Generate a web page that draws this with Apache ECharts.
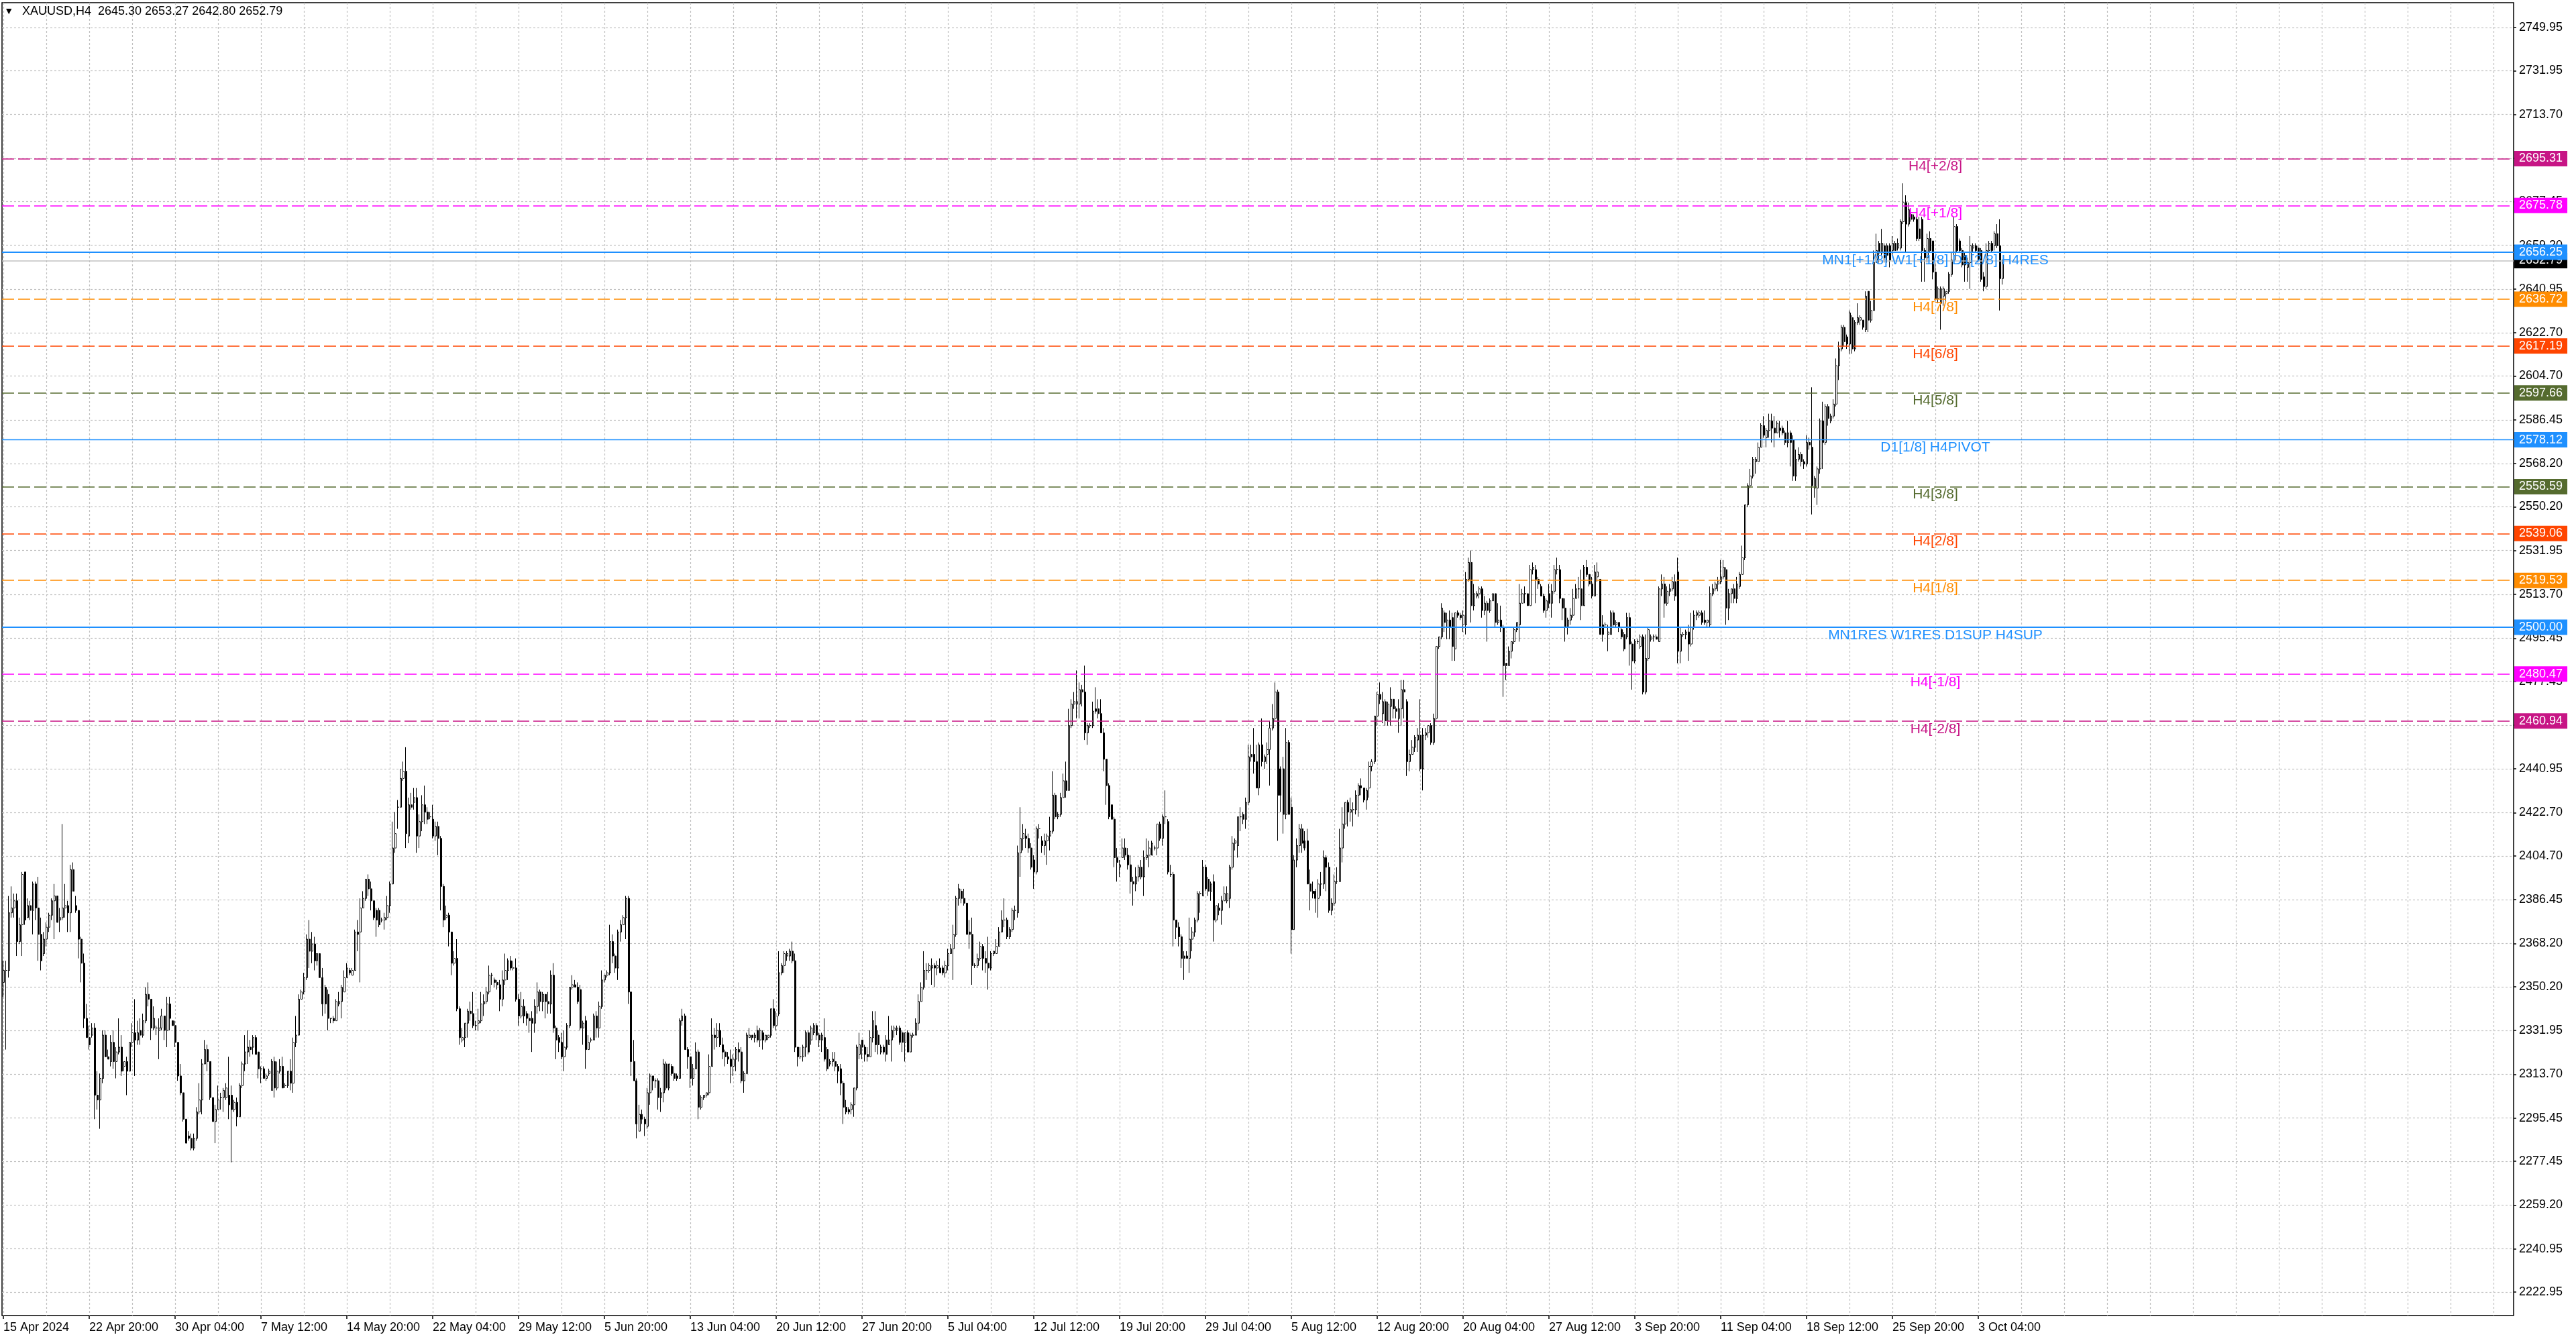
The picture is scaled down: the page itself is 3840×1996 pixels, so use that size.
<!DOCTYPE html>
<html>
<head>
<meta charset="utf-8">
<script src="https://cdn.jsdelivr.net/npm/echarts@6/dist/echarts.min.js"></script>
<style>
html,body{margin:0;padding:0;background:#fff;}
#chart{width:3840px;height:1996px;}
</style>
</head>
<body>
<div id="chart"></div>
<script>
// ---- DATA ----
const symbolTitle = 'XAUUSD,H4  2645.30 2653.27 2642.80 2652.79';

const timeLabels = ['15 Apr 2024','22 Apr 20:00','30 Apr 04:00','7 May 12:00','14 May 20:00','22 May 04:00',
  '29 May 12:00','5 Jun 20:00','13 Jun 04:00','20 Jun 12:00','27 Jun 20:00','5 Jul 04:00','12 Jul 12:00',
  '19 Jul 20:00','29 Jul 04:00','5 Aug 12:00','12 Aug 20:00','20 Aug 04:00','27 Aug 12:00','3 Sep 20:00',
  '11 Sep 04:00','18 Sep 12:00','25 Sep 20:00','3 Oct 04:00'];

const priceTicks = [2749.95,2731.95,2713.70,2695.45,2677.45,2659.20,2640.95,2622.70,2604.70,2586.45,
  2568.20,2550.20,2531.95,2513.70,2495.45,2477.45,2459.20,2440.95,2422.70,2404.70,2386.45,2368.20,
  2350.20,2331.95,2313.70,2295.45,2277.45,2259.20,2240.95,2222.95];

const levelValues = [2695.31,2675.78,2656.25,2636.72,2617.19,2597.66,2578.12,2558.59,2539.06,2519.53,2500.00,2480.47,2460.94];
const levelNames = ['H4[+2/8]','H4[+1/8]','MN1[+1/8] W1[+1/8] D1[2/8] H4RES','H4[7/8]','H4[6/8]','H4[5/8]',
  'D1[1/8] H4PIVOT','H4[3/8]','H4[2/8]','H4[1/8]','MN1RES W1RES D1SUP H4SUP','H4[-1/8]','H4[-2/8]'];
const bidPrice = 2652.79;

const opens = [
2352,2357,2357,2381,2383,2386,2369,2376,2398,2379,
2384,2382,2393,2383,2372,2364,2370,2375,2380,2386,
2388,2378,2379,2383,2384,2381,2399,2384,2382,2370,
2360,2337,2329,2330,2333,2305,2303,2312,2330,2321,
2319,2327,2319,2323,2325,2317,2319,2315,2327,2331,
2328,2332,2330,2336,2347,2345,2333,2333,2332,2333,
2338,2332,2343,2336,2334,2327,2313,2306,2295,2288,
2287,2283,2287,2298,2303,2318,2324,2319,2304,2294,
2299,2304,2304,2304,2305,2305,2299,2302,2296,2309,
2318,2323,2325,2325,2329,2323,2316,2316,2312,2314,
2307,2319,2308,2315,2317,2309,2309,2315,2310,2327,
2330,2345,2348,2354,2370,2365,2368,2361,2364,2354,
2350,2347,2337,2337,2336,2343,2344,2348,2354,2357,
2355,2357,2373,2373,2383,2387,2395,2391,2386,2382,
2382,2378,2378,2379,2384,2393,2408,2425,2425,2437,
2440,2413,2426,2427,2429,2413,2419,2426,2423,2421,
2420,2413,2417,2412,2392,2379,2380,2373,2360,2362,
2341,2328,2329,2335,2340,2339,2334,2335,2336,2343,
2344,2348,2355,2353,2352,2351,2345,2353,2357,2361,
2358,2358,2345,2338,2342,2339,2337,2337,2335,2342,
2348,2344,2347,2344,2343,2355,2333,2329,2327,2321,
2325,2334,2350,2351,2350,2349,2333,2336,2324,2328,
2328,2338,2333,2342,2353,2355,2356,2369,2363,2358,
2373,2376,2379,2387,2348,2319,2311,2290,2297,2295,
2292,2306,2313,2311,2311,2304,2306,2318,2308,2317,
2314,2313,2312,2336,2338,2324,2321,2312,2316,2323,
2300,2304,2305,2306,2317,2330,2329,2332,2326,2323,
2321,2320,2317,2320,2324,2323,2311,2314,2329,2330,
2329,2332,2328,2331,2328,2329,2330,2341,2334,2339,
2356,2359,2363,2363,2365,2361,2325,2321,2321,2325,
2331,2328,2331,2334,2330,2328,2329,2324,2318,2319,
2319,2317,2316,2310,2300,2299,2299,2301,2308,2322,
2328,2325,2322,2321,2329,2334,2330,2323,2325,2328,
2326,2328,2332,2332,2333,2331,2327,2331,2323,2330,
2330,2335,2344,2350,2357,2357,2358,2359,2358,2358,
2358,2356,2359,2364,2366,2372,2387,2390,2387,2385,
2373,2372,2359,2359,2362,2367,2362,2360,2358,2364,
2364,2367,2373,2378,2378,2371,2374,2382,2381,2406,
2412,2413,2412,2408,2403,2398,2416,2411,2409,2411,
2413,2415,2430,2421,2422,2429,2436,2432,2459,2468,
2468,2468,2474,2473,2456,2459,2459,2466,2466,2464,
2456,2445,2434,2426,2420,2404,2400,2404,2408,2405,
2401,2394,2393,2396,2400,2396,2404,2405,2405,2408,
2408,2418,2412,2421,2419,2397,2397,2378,2375,2371,
2363,2363,2362,2370,2373,2378,2389,2388,2400,2395,
2390,2394,2378,2383,2382,2386,2386,2387,2400,2410,
2409,2421,2422,2420,2427,2447,2447,2444,2433,2451,
2444,2447,2449,2458,2462,2473,2441,2441,2422,2452,
2425,2374,2403,2409,2416,2411,2411,2393,2390,2390,
2387,2393,2393,2404,2400,2382,2385,2394,2394,2408,
2418,2427,2423,2424,2424,2430,2434,2433,2428,2433,
2442,2444,2463,2472,2464,2469,2461,2467,2470,2466,
2462,2466,2474,2469,2444,2447,2450,2453,2455,2441,
2455,2456,2459,2452,2462,2492,2496,2506,2500,2503,
2504,2491,2506,2505,2501,2501,2520,2527,2509,2513,
2514,2516,2507,2510,2507,2511,2514,2502,2503,2500,
2485,2484,2490,2494,2499,2501,2510,2514,2514,2509,
2524,2524,2520,2517,2513,2507,2514,2510,2515,2524,
2524,2512,2508,2500,2503,2505,2512,2516,2516,2509,
2525,2522,2518,2513,2521,2520,2501,2501,2497,2497,
2506,2501,2502,2499,2497,2496,2504,2493,2486,2494,
2492,2496,2473,2487,2495,2496,2496,2494,2516,2518,
2510,2515,2516,2519,2523,2490,2497,2497,2498,2493,
2500,2505,2505,2506,2503,2502,2501,2514,2516,2518,
2519,2521,2524,2508,2514,2516,2512,2517,2522,2529,
2551,2559,2563,2569,2569,2575,2584,2579,2582,2586,
2583,2581,2583,2583,2581,2577,2581,2578,2563,2570,
2572,2569,2568,2577,2575,2558,2558,2566,2586,2577,
2592,2586,2588,2593,2609,2616,2625,2621,2618,2629,
2616,2627,2628,2628,2624,2640,2628,2632,2652,2660,
2656,2659,2659,2659,2657,2660,2658,2658,2669,2677,
2668,2672,2671,2670,2666,2670,2657,2654,2662,2661,
2648,2637,2635,2638,2639,2640,2647,2653,2667,2661,
2657,2655,2650,2652,2658,2659,2658,2657,2646,2642,
2657,2660,2659,2664,2659,2645.30];

const highs = [
2361,2361,2388,2392,2389,2389,2379,2398,2398,2387,
2386,2394,2394,2396,2379,2373,2377,2381,2387,2393,
2388,2383,2418,2393,2386,2401,2402,2388,2382,2371,
2364,2343,2334,2335,2335,2315,2314,2332,2332,2324,
2330,2332,2325,2337,2330,2319,2321,2327,2335,2345,
2336,2337,2339,2350,2352,2345,2342,2334,2337,2341,
2338,2346,2346,2336,2336,2327,2318,2306,2295,2290,
2289,2289,2300,2310,2320,2328,2326,2319,2304,2301,
2309,2306,2308,2310,2321,2309,2303,2304,2310,2319,
2330,2332,2328,2330,2330,2323,2317,2317,2314,2316,
2320,2321,2319,2320,2321,2310,2315,2320,2329,2338,
2347,2349,2356,2372,2378,2373,2371,2364,2364,2358,
2351,2349,2337,2338,2345,2348,2351,2357,2360,2358,
2358,2374,2378,2387,2390,2395,2397,2394,2386,2383,
2383,2379,2381,2388,2394,2419,2423,2428,2441,2444,
2450,2429,2431,2433,2433,2422,2430,2434,2425,2423,
2426,2419,2419,2413,2393,2384,2381,2373,2365,2370,
2342,2333,2335,2341,2344,2348,2336,2341,2348,2347,
2350,2359,2356,2354,2353,2353,2357,2364,2362,2363,
2361,2362,2347,2348,2345,2340,2339,2340,2345,2352,
2349,2348,2347,2348,2357,2360,2334,2330,2331,2332,
2335,2350,2355,2353,2352,2351,2336,2338,2330,2329,
2339,2340,2344,2357,2355,2357,2376,2372,2364,2374,
2378,2380,2388,2388,2348,2328,2312,2301,2299,2296,
2308,2314,2313,2312,2312,2308,2320,2319,2318,2318,
2317,2314,2337,2341,2339,2325,2321,2318,2327,2324,
2305,2305,2306,2322,2337,2333,2335,2335,2329,2324,
2323,2324,2322,2325,2327,2325,2315,2331,2333,2330,
2331,2334,2333,2332,2330,2330,2341,2345,2340,2365,
2360,2365,2365,2366,2369,2364,2325,2325,2326,2332,
2332,2334,2335,2335,2331,2331,2337,2325,2320,2323,
2323,2318,2318,2311,2303,2300,2302,2308,2326,2331,
2328,2326,2325,2332,2340,2340,2332,2326,2326,2330,
2338,2334,2334,2334,2334,2332,2331,2332,2331,2331,
2337,2347,2352,2365,2360,2360,2362,2360,2361,2362,
2359,2361,2366,2368,2376,2388,2393,2391,2391,2385,
2378,2379,2360,2364,2369,2368,2365,2371,2365,2365,
2370,2375,2382,2387,2379,2375,2383,2384,2409,2425,
2418,2416,2414,2410,2405,2417,2418,2413,2414,2414,
2421,2440,2431,2423,2431,2439,2444,2466,2470,2473,
2482,2477,2476,2484,2460,2460,2469,2475,2470,2470,
2458,2445,2435,2426,2421,2408,2403,2412,2412,2408,
2405,2396,2400,2401,2403,2407,2412,2411,2411,2409,
2418,2419,2422,2432,2420,2401,2398,2378,2377,2372,
2365,2365,2379,2375,2379,2390,2390,2403,2401,2396,
2394,2397,2384,2385,2388,2392,2392,2401,2413,2412,
2421,2425,2423,2429,2451,2451,2458,2451,2452,2462,
2447,2452,2461,2468,2477,2474,2442,2446,2458,2453,
2429,2405,2412,2418,2418,2415,2416,2399,2394,2391,
2395,2398,2407,2405,2402,2387,2397,2400,2416,2425,
2427,2428,2429,2427,2432,2435,2437,2433,2433,2444,
2445,2463,2473,2477,2473,2470,2469,2475,2470,2467,
2470,2478,2478,2470,2449,2453,2455,2458,2470,2458,
2458,2459,2460,2464,2492,2496,2510,2507,2506,2507,
2506,2506,2507,2506,2507,2523,2529,2532,2518,2515,
2517,2517,2513,2511,2512,2514,2514,2510,2509,2501,
2485,2492,2494,2500,2502,2518,2516,2517,2514,2526,
2527,2526,2521,2518,2514,2512,2518,2518,2526,2529,
2526,2512,2512,2504,2508,2516,2518,2521,2524,2526,
2528,2522,2521,2526,2527,2520,2505,2502,2501,2507,
2507,2503,2502,2500,2498,2506,2506,2494,2495,2495,
2497,2497,2497,2500,2497,2497,2497,2517,2522,2521,
2517,2518,2521,2522,2529,2500,2498,2499,2501,2506,
2507,2507,2507,2507,2507,2503,2517,2518,2519,2521,
2528,2528,2525,2516,2516,2518,2521,2523,2534,2551,
2560,2566,2571,2571,2577,2585,2588,2583,2589,2589,
2588,2586,2586,2584,2582,2586,2582,2580,2574,2575,
2573,2570,2580,2579,2600,2563,2567,2587,2594,2593,
2593,2589,2595,2612,2619,2626,2626,2622,2632,2630,
2628,2635,2630,2628,2640,2640,2636,2657,2664,2661,
2666,2660,2660,2660,2663,2661,2662,2670,2685,2680,
2677,2673,2672,2671,2671,2671,2658,2664,2665,2661,
2652,2642,2642,2642,2640,2648,2656,2671,2668,2662,
2658,2656,2654,2663,2660,2660,2659,2658,2648,2660,
2661,2661,2665,2668,2670,2653.27];

const lows = [
2346,2324,2354,2379,2379,2363,2368,2363,2376,2379,
2378,2372,2378,2361,2357,2363,2367,2373,2378,2370,
2377,2373,2378,2379,2373,2373,2390,2381,2362,2352,
2333,2329,2324,2329,2295,2299,2291,2310,2321,2320,
2317,2316,2312,2322,2313,2315,2305,2315,2325,2313,
2326,2326,2329,2335,2342,2328,2332,2330,2320,2332,
2328,2325,2332,2334,2325,2311,2305,2294,2285,2286,
2282,2282,2286,2297,2297,2318,2315,2303,2294,2285,
2299,2299,2298,2303,2295,2277,2298,2292,2296,2308,
2315,2318,2321,2322,2322,2312,2310,2312,2311,2313,
2307,2304,2307,2314,2308,2308,2308,2307,2306,2325,
2330,2345,2347,2353,2358,2360,2357,2359,2354,2338,
2339,2332,2335,2335,2336,2342,2337,2348,2354,2355,
2355,2357,2365,2352,2383,2386,2388,2382,2378,2371,
2375,2377,2374,2378,2381,2393,2406,2416,2425,2436,
2408,2410,2424,2424,2406,2408,2415,2418,2418,2420,
2412,2411,2405,2382,2375,2378,2367,2355,2359,2340,
2326,2327,2325,2329,2336,2333,2332,2332,2335,2338,
2343,2347,2351,2350,2349,2340,2342,2351,2353,2357,
2357,2344,2334,2337,2335,2334,2331,2323,2331,2339,
2340,2340,2337,2339,2339,2331,2320,2323,2320,2315,
2324,2333,2349,2350,2343,2332,2326,2316,2324,2327,
2328,2329,2329,2341,2352,2354,2355,2360,2356,2353,
2369,2376,2370,2343,2313,2311,2287,2290,2293,2288,
2291,2301,2307,2308,2299,2298,2302,2307,2307,2313,
2311,2311,2312,2334,2324,2316,2308,2309,2316,2295,
2299,2303,2304,2305,2317,2324,2325,2325,2320,2317,
2318,2310,2313,2315,2319,2310,2306,2314,2329,2328,
2327,2327,2325,2324,2327,2328,2329,2333,2332,2338,
2355,2356,2361,2361,2360,2323,2317,2320,2319,2321,
2322,2326,2330,2328,2325,2323,2319,2315,2317,2317,
2315,2310,2305,2293,2297,2297,2297,2296,2307,2320,
2320,2319,2319,2321,2327,2323,2322,2322,2322,2319,
2326,2319,2329,2330,2326,2323,2319,2323,2323,2329,
2330,2332,2344,2349,2353,2356,2351,2350,2355,2356,
2355,2354,2357,2364,2353,2371,2384,2385,2384,2372,
2366,2351,2358,2358,2361,2357,2356,2349,2357,2363,
2364,2367,2373,2375,2370,2370,2373,2378,2379,2396,
2407,2408,2406,2399,2391,2397,2412,2406,2405,2401,
2407,2414,2420,2420,2421,2429,2429,2432,2458,2466,
2462,2462,2467,2453,2451,2458,2458,2464,2462,2456,
2440,2426,2420,2420,2400,2394,2396,2404,2403,2399,
2389,2384,2390,2394,2395,2388,2403,2400,2405,2407,
2405,2411,2409,2418,2397,2396,2367,2370,2367,2358,
2353,2362,2356,2365,2371,2377,2381,2388,2390,2388,
2386,2369,2377,2380,2376,2386,2385,2383,2399,2407,
2404,2415,2418,2416,2426,2444,2439,2433,2430,2442,
2441,2443,2434,2457,2461,2411,2423,2414,2420,2422,
2364,2374,2400,2406,2406,2407,2393,2382,2387,2381,
2379,2388,2391,2390,2381,2380,2384,2393,2394,2402,
2416,2417,2419,2417,2422,2421,2430,2427,2424,2429,
2440,2443,2459,2468,2460,2459,2459,2459,2462,2462,
2456,2459,2462,2438,2440,2447,2448,2448,2440,2432,
2453,2454,2451,2451,2461,2491,2495,2498,2495,2495,
2486,2486,2504,2503,2498,2497,2519,2502,2507,2512,
2512,2504,2505,2494,2506,2511,2500,2501,2498,2471,
2478,2484,2487,2493,2498,2494,2510,2510,2509,2509,
2522,2510,2516,2513,2506,2504,2508,2504,2514,2522,
2510,2503,2494,2497,2501,2504,2512,2512,2503,2509,
2521,2517,2512,2513,2519,2497,2494,2500,2490,2497,
2500,2500,2498,2495,2490,2495,2484,2474,2485,2493,
2491,2472,2472,2486,2494,2494,2495,2494,2513,2504,
2509,2513,2515,2511,2485,2485,2496,2495,2486,2492,
2499,2503,2504,2501,2501,2500,2500,2513,2515,2515,
2518,2520,2501,2503,2510,2510,2510,2516,2522,2528,
2550,2558,2562,2564,2569,2575,2579,2575,2579,2577,
2575,2581,2579,2580,2576,2575,2567,2561,2561,2569,
2567,2566,2567,2574,2547,2554,2551,2564,2566,2576,
2584,2585,2587,2592,2603,2615,2617,2616,2614,2614,
2615,2626,2626,2624,2623,2623,2627,2632,2652,2652,
2655,2652,2652,2650,2655,2657,2657,2657,2668,2656,
2667,2669,2669,2661,2661,2644,2644,2652,2656,2645,
2636,2635,2624,2634,2636,2639,2646,2652,2656,2656,
2650,2644,2644,2641,2656,2656,2652,2644,2640,2641,
2656,2656,2657,2658,2632,2642.80];

const closes = [
2357,2357,2381,2383,2386,2369,2376,2397,2378,2384,
2382,2393,2383,2372,2361,2370,2375,2380,2386,2388,
2377,2379,2383,2384,2381,2399,2390,2382,2370,2360,
2337,2329,2326,2333,2305,2303,2312,2330,2321,2320,
2327,2319,2323,2325,2315,2319,2315,2327,2331,2328,
2331,2330,2336,2347,2345,2333,2337,2333,2333,2338,
2332,2343,2337,2334,2327,2313,2306,2295,2285,2287,
2283,2287,2298,2303,2318,2324,2319,2304,2294,2299,
2303,2304,2307,2308,2301,2299,2302,2296,2309,2318,
2323,2325,2324,2329,2322,2316,2316,2312,2313,2315,
2319,2308,2315,2317,2308,2309,2315,2310,2327,2330,
2345,2348,2354,2370,2365,2368,2361,2364,2354,2343,
2343,2337,2337,2336,2344,2344,2350,2354,2358,2356,
2357,2373,2372,2383,2387,2395,2391,2386,2379,2378,
2376,2378,2379,2384,2393,2408,2414,2425,2437,2440,
2414,2426,2425,2429,2413,2419,2426,2423,2420,2421,
2413,2417,2412,2392,2378,2380,2373,2360,2362,2341,
2329,2329,2335,2340,2339,2334,2334,2336,2343,2344,
2348,2355,2355,2352,2351,2345,2353,2357,2361,2358,
2358,2345,2338,2342,2338,2337,2336,2335,2342,2348,
2344,2347,2344,2343,2355,2333,2328,2327,2321,2325,
2334,2350,2351,2350,2344,2333,2335,2324,2327,2328,
2338,2333,2342,2353,2355,2356,2369,2363,2358,2373,
2376,2379,2387,2348,2319,2311,2293,2297,2295,2293,
2306,2313,2311,2311,2304,2306,2318,2308,2318,2314,
2312,2312,2336,2338,2324,2321,2312,2316,2323,2300,
2304,2305,2306,2317,2330,2329,2332,2326,2323,2321,
2320,2317,2320,2324,2323,2311,2314,2330,2330,2329,
2330,2328,2332,2328,2330,2330,2341,2334,2338,2356,
2359,2364,2364,2365,2361,2325,2321,2321,2325,2331,
2323,2333,2334,2330,2328,2330,2320,2316,2319,2320,
2317,2315,2310,2300,2298,2298,2301,2308,2325,2326,
2325,2322,2321,2329,2336,2326,2326,2325,2323,2322,
2328,2332,2333,2333,2327,2327,2331,2323,2330,2330,
2335,2344,2350,2357,2357,2359,2359,2358,2359,2356,
2356,2359,2364,2366,2372,2387,2391,2387,2385,2372,
2372,2359,2359,2362,2367,2362,2360,2358,2364,2365,
2367,2373,2378,2378,2371,2374,2382,2382,2406,2412,
2414,2412,2408,2400,2398,2416,2416,2409,2411,2413,
2415,2430,2421,2422,2429,2436,2432,2459,2468,2469,
2469,2474,2473,2456,2459,2459,2465,2465,2464,2456,
2445,2434,2421,2420,2404,2402,2401,2408,2405,2401,
2394,2393,2396,2400,2396,2404,2405,2408,2410,2408,
2418,2412,2421,2421,2398,2397,2378,2375,2371,2362,
2362,2362,2370,2373,2378,2389,2389,2400,2391,2390,
2393,2378,2384,2382,2386,2389,2389,2400,2410,2411,
2421,2421,2420,2427,2446,2446,2444,2433,2451,2444,
2446,2449,2458,2462,2473,2430,2430,2422,2452,2422,
2374,2403,2409,2416,2410,2408,2393,2390,2389,2387,
2393,2393,2404,2400,2382,2385,2394,2394,2408,2418,
2427,2423,2424,2424,2430,2434,2433,2428,2432,2442,
2444,2463,2472,2470,2469,2461,2468,2470,2466,2465,
2466,2474,2473,2444,2447,2450,2454,2455,2441,2455,
2456,2459,2452,2462,2492,2496,2508,2502,2503,2500,
2492,2506,2505,2504,2505,2520,2527,2509,2514,2514,
2516,2507,2510,2507,2511,2514,2502,2503,2500,2484,
2484,2490,2494,2499,2502,2510,2514,2514,2509,2524,
2525,2520,2518,2513,2507,2511,2510,2515,2524,2524,
2512,2508,2500,2503,2505,2512,2516,2516,2509,2525,
2522,2518,2513,2523,2523,2497,2497,2501,2498,2506,
2501,2502,2500,2496,2491,2504,2493,2486,2494,2494,
2496,2473,2487,2499,2496,2496,2495,2516,2518,2510,
2515,2516,2519,2513,2490,2497,2497,2498,2493,2500,
2505,2506,2506,2502,2502,2503,2514,2516,2518,2519,
2521,2525,2508,2514,2516,2512,2518,2522,2529,2551,
2559,2563,2570,2570,2575,2584,2580,2582,2586,2583,
2581,2585,2582,2581,2577,2581,2577,2563,2570,2572,
2569,2568,2577,2576,2559,2562,2566,2586,2577,2592,
2587,2588,2593,2609,2616,2625,2619,2618,2631,2616,
2627,2629,2629,2625,2638,2628,2632,2652,2657,2656,
2660,2654,2655,2653,2660,2657,2660,2669,2677,2668,
2674,2670,2670,2662,2662,2657,2654,2662,2657,2648,
2637,2641,2641,2641,2640,2647,2653,2667,2657,2657,
2651,2651,2652,2659,2659,2657,2653,2645,2642,2657,
2660,2657,2664,2659,2645.30,2652.79];

// ---- LAYOUT / STYLE ----
const FONT = "'Liberation Sans', Arial, Helvetica, sans-serif";
const SLOTS = 936;          // bar slots visible across the plot (incl. right shift)
const LABEL_EVERY = 32;     // time label every 32 bars
const GRID_EVERY = 16;      // vertical grid every 16 bars
const LEVEL_TEXT_BAR = 720; // bar where level texts are anchored
const levelColors = ['#C71585','#FF00FF','#1E90FF','#FF8C00','#FF4500','#556B2F','#1E90FF','#556B2F','#FF4500','#FF8C00','#1E90FF','#FF00FF','#C71585'];
const levelSolid = [false,false,true,false,false,false,true,false,false,false,true,false,false];
const levelWidth = [1.5,1.5,2.2,1.5,1.5,1.5,1.4,1.5,1.5,1.5,2.2,1.5,1.5];

const categories = Array.from({length: SLOTS}, (_, i) => String(i));
const candles = opens.map((o, i) => [o, closes[i], lows[i], highs[i]]);
const lastLabelSlot = (timeLabels.length - 1) * LABEL_EVERY;

const tagLabel = (bg) => ({
  show: true, position: 'end', distance: 1,
  formatter: (p) => Number(p.value).toFixed(2),
  backgroundColor: bg, color: '#fff', padding: [1, 7, 1, 7],
  fontSize: 18, lineHeight: 21, fontFamily: FONT,
  textBorderWidth: 0
});

const markData = [{
  yAxis: bidPrice,
  lineStyle: {color: '#c0c0c0', width: 1.5, type: 'solid'},
  label: tagLabel('#000000')
}].concat(levelValues.map((v, i) => ({
  yAxis: v,
  lineStyle: {color: levelColors[i], width: levelWidth[i], type: levelSolid[i] ? 'solid' : [18, 6]},
  label: tagLabel(levelColors[i])
})));

const chart = echarts.init(document.getElementById('chart'), null, {renderer: 'canvas', width: 3840, height: 1996});

chart.setOption({
  animation: false,
  backgroundColor: '#ffffff',
  title: {
    text: '{t|▼}' + symbolTitle,
    left: 9, top: 8, padding: 0,
    textStyle: {
      fontSize: 18, fontWeight: 'normal', color: '#000', fontFamily: FONT,
      rich: {t: {fontSize: 11, width: 24, color: '#000', fontFamily: 'DejaVu Sans'}}
    }
  },
  grid: {
    left: 3, top: 4, right: 93, bottom: 35,
    show: true, borderColor: '#000', borderWidth: 1.5, backgroundColor: '#fff'
  },
  xAxis: {
    type: 'category', data: categories, boundaryGap: true,
    axisLine: {show: false},
    axisTick: {show: true, alignWithLabel: true, length: 5,
      interval: (i) => i % LABEL_EVERY === 0 && i <= lastLabelSlot,
      lineStyle: {color: '#000', width: 1.5}},
    axisLabel: {
      interval: LABEL_EVERY - 1, align: 'left', margin: 9,
      formatter: (v, i) => (i % LABEL_EVERY === 0 && timeLabels[i / LABEL_EVERY]) ? timeLabels[i / LABEL_EVERY] : '',
      color: '#000', fontSize: 18, fontFamily: FONT
    },
    splitLine: {show: true, interval: GRID_EVERY - 1, alignWithLabel: true,
      lineStyle: {color: '#c0c0c0', width: 1.2, type: [3, 3]}}
  },
  yAxis: {
    type: 'value', position: 'right', min: 2213.17, max: 2760.28,
    axisLine: {show: false},
    axisTick: {show: true, customValues: priceTicks, length: 4, lineStyle: {color: '#000', width: 1.5}},
    axisLabel: {customValues: priceTicks, formatter: (v) => Number(v).toFixed(2), margin: 8,
      color: '#000', fontSize: 18, fontFamily: FONT},
    splitLine: {show: true, lineStyle: {color: '#c0c0c0', width: 1.2, type: [3, 3]}}
  },
  series: [
    {
      type: 'candlestick', name: 'XAUUSD,H4', data: candles, large: false,
      barWidth: 2.5,
      itemStyle: {color: '#ffffff', color0: '#000000', borderColor: '#000000', borderColor0: '#000000', borderWidth: 1},
      markLine: {symbol: ['none', 'none'], silent: true, animation: false, precision: 2, data: markData}
    },
    {
      type: 'scatter', silent: true, symbolSize: 0, z: 6,
      data: levelValues.map((v, i) => ({
        value: [LEVEL_TEXT_BAR, v],
        label: {color: levelColors[i]}
      })),
      label: {
        show: true, position: 'inside', offset: [0, 12],
        formatter: (p) => levelNames[p.dataIndex],
        fontSize: 21, fontFamily: FONT,
        textBorderWidth: 0, textBorderColor: 'transparent', opacity: 1
      },
      itemStyle: {opacity: 1},
      emphasis: {disabled: true}
    }
  ]
});
</script>
</body>
</html>
